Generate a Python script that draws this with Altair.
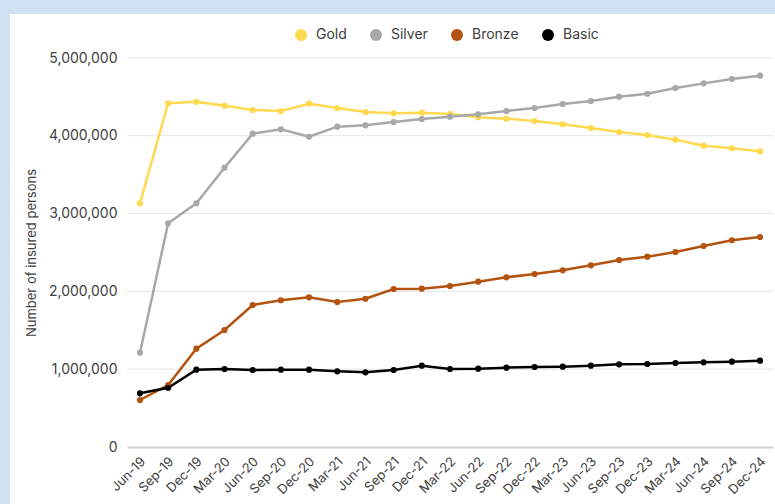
import altair as alt
import pandas as pd

months = ["Jun-19", "Sep-19", "Dec-19", "Mar-20", "Jun-20", "Sep-20", "Dec-20",
          "Mar-21", "Jun-21", "Sep-21", "Dec-21", "Mar-22", "Jun-22", "Sep-22",
          "Dec-22", "Mar-23", "Jun-23", "Sep-23", "Dec-23", "Mar-24", "Jun-24",
          "Sep-24", "Dec-24"]

gold = [3132000, 4418000, 4438000, 4387000, 4332000, 4319000, 4413000, 4357000,
        4306000, 4289000, 4297000, 4280000, 4238000, 4220000, 4190000, 4148000,
        4100000, 4049000, 4010000, 3950000, 3873000, 3839000, 3800000]
silver = [1212000, 2875000, 3132000, 3590000, 4027000, 4083000, 3988000, 4117000,
          4135000, 4177000, 4216000, 4246000, 4276000, 4319000, 4357000, 4409000,
          4447000, 4503000, 4541000, 4614000, 4674000, 4730000, 4773000]
bronze = [604000, 797000, 1264000, 1504000, 1825000, 1886000, 1924000, 1864000,
          1906000, 2031000, 2035000, 2069000, 2125000, 2181000, 2224000, 2271000,
          2335000, 2404000, 2446000, 2506000, 2584000, 2657000, 2699000]
basic = [690000, 762000, 994000, 1003000, 990000, 994000, 994000, 973000,
         960000, 990000, 1045000, 1003000, 1007000, 1020000, 1028000, 1033000,
         1045000, 1063000, 1067000, 1080000, 1088000, 1097000, 1110000]

series_names = ["Gold", "Silver", "Bronze", "Basic"]
series_colors = ["#FFD94F", "#A8A8A8", "#B4520F", "#000000"]
y_ticks = [0, 1000000, 2000000, 3000000, 4000000, 5000000]

rows = []
for name, vals in zip(series_names, [gold, silver, bronze, basic]):
    for m, v in zip(months, vals):
        rows.append({"month": m, "value": v, "series": name, "line": name})
df = pd.DataFrame(rows)
grid_df = pd.DataFrame({"value": y_ticks[1:]})
panel_df = pd.DataFrame({"a": [0]})

FONT = "Inter"
TXT = "#404040"

x_enc = alt.X("month:O", sort=months,
              scale=alt.Scale(type="point", padding=0.46),
              axis=alt.Axis(title=None, labelAngle=-45, labelFontSize=13,
                            labelAlign="right", labelBaseline="middle",
                            labelColor=TXT, labelFont=FONT, ticks=False,
                            domainColor="#d0d0d0", domainWidth=2,
                            labelPadding=12, labelOffset=3, zindex=1))
y_enc = alt.Y("value:Q", scale=alt.Scale(domain=[0, 5000000]),
              axis=alt.Axis(title="Number of insured persons", values=y_ticks,
                            format=",.0f", grid=False, domain=False, ticks=False,
                            labelFontSize=14, labelColor=TXT, labelFont=FONT,
                            labelPadding=10, titleFontSize=13, titleColor=TXT,
                            titleFont=FONT, titleFontWeight="normal",
                            titlePadding=10, zindex=1))

panel = alt.Chart(panel_df).mark_rect(color="white").encode(
    x=alt.value(-117), x2=alt.value(648), y=alt.value(-44), y2=alt.value(446))

grid = alt.Chart(grid_df).mark_rule(color="#e3e3e3", strokeWidth=1).encode(y=y_enc)

lines = alt.Chart(df).mark_line(strokeWidth=2.5).encode(
    x=x_enc, y=y_enc,
    stroke=alt.Stroke("line:N", sort=series_names,
                      scale=alt.Scale(range=series_colors), legend=None),
    detail="line:N")

points = alt.Chart(df).mark_circle(size=38, opacity=1).encode(
    x=x_enc, y=y_enc,
    color=alt.Color("series:N",
                    scale=alt.Scale(domain=series_names, range=series_colors),
                    legend=alt.Legend(title=None, orient="none", direction="horizontal",
                                      legendX=167, legendY=-30, symbolType="circle",
                                      symbolSize=144, labelFontSize=14,
                                      labelColor=TXT, labelFont=FONT,
                                      labelOffset=8, columnPadding=22,
                                      symbolStrokeWidth=0, symbolOpacity=1,
                                      zindex=1)))

chart = alt.layer(panel, grid, lines, points).properties(
    width=646, height=389,
    autosize=alt.AutoSizeParams(type="none"),
    padding={"left": 127, "top": 58, "right": 2, "bottom": 57},
    background="#CFE2F3",
).configure_view(stroke=None)

chart.save("out.html", embed_options={"renderer": "svg", "actions": False})
